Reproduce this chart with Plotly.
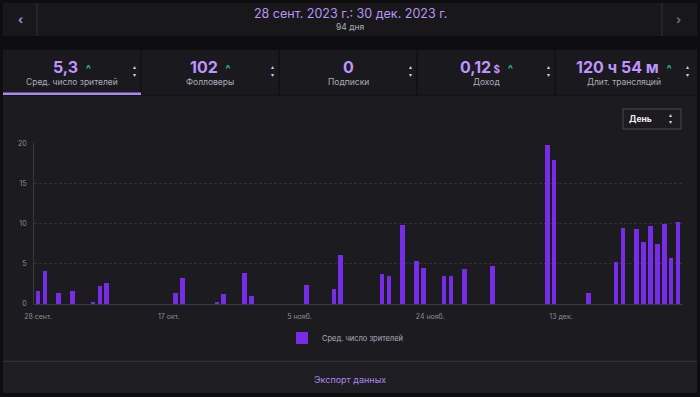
import plotly.graph_objects as go

# ---------------- data ----------------
dates = ["2023-09-28", "2023-09-29", "2023-10-01", "2023-10-03", "2023-10-06", "2023-10-07",
         "2023-10-08", "2023-10-18", "2023-10-19", "2023-10-24", "2023-10-25", "2023-10-28",
         "2023-10-29", "2023-11-06", "2023-11-10", "2023-11-11", "2023-11-17", "2023-11-18",
         "2023-11-20", "2023-11-22", "2023-11-23", "2023-11-26", "2023-11-27", "2023-11-29",
         "2023-12-03", "2023-12-11", "2023-12-12", "2023-12-17", "2023-12-21", "2023-12-22",
         "2023-12-24", "2023-12-25", "2023-12-26", "2023-12-27", "2023-12-28", "2023-12-29",
         "2023-12-30"]
viewers = [1.6, 4.1, 1.4, 1.6, 0.2, 2.3,
           2.65, 1.4, 3.2, 0.3, 1.25, 3.85,
           1.05, 2.35, 1.9, 6.1, 3.7, 3.45,
           9.8, 5.3, 4.45, 3.45, 3.45, 4.3,
           4.75, 19.8, 17.9, 1.35, 5.25, 9.4,
           9.3, 7.7, 9.75, 7.4, 10.0, 5.7,
           10.2]
series_name = "Сред. число зрителей"
x_tick_vals = ["2023-09-28", "2023-10-17", "2023-11-05", "2023-11-24", "2023-12-13"]
x_tick_text = ["28 сент.", "17 окт.", "5 нояб.", "24 нояб.", "13 дек."]
y_tick_vals = [0, 5, 10, 15, 20]

tab_values = ["5,3", "102", "0", "0,12", "120 ч 54 м"]
tab_suffix = ["", "", "", " $", ""]
tab_up = [True, True, False, True, True]
tab_labels = ["Сред. число зрителей", "Фолловеры", "Подписки", "Доход", "Длит. трансляций"]
period_title = "28 сент. 2023 г.: 30 дек. 2023 г."
period_days = "94 дня"

# ---------------- geometry helpers ----------------
W, H = 700, 397
ML, MR, MT, MB = 34, 17, 143, 93
PW, PH = W - ML - MR, H - MT - MB

def xp(px):
    return (px - ML) / PW

def yp(py):
    return (H - MB - py) / PH

PAGE = "#0e0e10"
CARD = "#1c1b1f"
HEAD = "#18181b"
PURPLE = "#772ce8"
LAV = "#bf94ff"
GREEN = "#1fc493"
GREY = "#adadb8"
FONT = "Inter, Roboto, sans-serif"

fig = go.Figure()
fig.add_trace(go.Bar(
    x=dates, y=viewers, name=series_name,
    marker=dict(color=PURPLE, line=dict(width=0)),
    width=0.68 * 86400000,
    showlegend=True,
))

shapes = []
def rect(x0, y0, x1, y1, fill, line=None, lw=0, layer="below"):
    shapes.append(dict(type="rect", xref="paper", yref="paper",
                       x0=xp(x0), x1=xp(x1), y0=yp(y1), y1=yp(y0),
                       fillcolor=fill, line=dict(color=line or fill, width=lw), layer=layer))

def hline(x0, x1, y, color, w=1):
    shapes.append(dict(type="line", xref="paper", yref="paper",
                       x0=xp(x0), x1=xp(x1), y0=yp(y), y1=yp(y),
                       line=dict(color=color, width=w), layer="below"))

def vline(x, y0, y1, color, w=1):
    shapes.append(dict(type="line", xref="paper", yref="paper",
                       x0=xp(x), x1=xp(x), y0=yp(y0), y1=yp(y1),
                       line=dict(color=color, width=w), layer="below"))

# header bar
rect(3, 3, 697, 36, HEAD)
vline(37, 3, 36, "#2a2a2f", 1.5)
vline(662, 3, 36, "#2a2a2f", 1.5)
# main card
rect(3, 50, 697, 393, CARD)
# tab row
rect(3, 50, 697, 95, "#1a191d")
for dx in [141, 279, 417, 555]:
    vline(dx, 50, 95, "#111113", 1.5)
hline(3, 697, 95.5, "#141416", 1.5)
rect(3, 92.5, 141, 95, "#a98af0")
# footer
hline(3, 697, 361.5, "#303036", 1.5)
rect(3, 362, 697, 393, "#1e1d21")
# dropdown
shapes.append(dict(type="rect", xref="paper", yref="paper",
                   x0=xp(623), x1=xp(681), y0=yp(129), y1=yp(109),
                   fillcolor="rgba(0,0,0,0)", line=dict(color="#4a4a52", width=1), layer="below"))

ann = []
def text(x, y, s, size, color, bold=False, xanchor="center"):
    ann.append(dict(xref="paper", yref="paper", x=xp(x), y=yp(y), text=s, showarrow=False,
                    xanchor=xanchor, yanchor="middle",
                    font=dict(size=size, color=color, family=FONT,
                              weight=("bold" if bold else "normal"))))

text(350, 13.5, period_title, 12.5, "#b794f6")
text(350, 27.5, period_days, 8.5, GREY)
text(20, 19.5, "‹", 12, "#9f8ff0", bold=True)
text(678, 19.5, "›", 12, "#6f6a99", bold=True)

tab_w = 138
for i in range(5):
    cx = 72 + i * tab_w
    num = tab_values[i]
    if tab_suffix[i]:
        num += "<span style='font-size:10px'>" + tab_suffix[i] + "</span>"
    if tab_up[i]:
        num += "  <span style='font-size:11px;color:%s'><b>^</b></span>" % GREEN
    text(cx, 67, num, 16, LAV, bold=True)
    text(cx, 82, tab_labels[i], 8.5, GREY)
    ix = 134 + i * tab_w + (1 if i == 4 else 0)
    text(ix, 70.5, "▴<br>▾", 6, "#d0d0d8")

text(640, 119, "День", 8.5, "#efeff1", bold=True)
text(670, 119, "▴<br>▾", 5.5, "#d0d0d8")
text(350, 379, "Экспорт данных", 9, "#a98af0")

fig.update_layout(
    width=W, height=H,
    margin=dict(l=ML, r=MR, t=MT, b=MB, pad=0),
    paper_bgcolor=PAGE, plot_bgcolor="rgba(0,0,0,0)",
    font=dict(family=FONT, color=GREY),
    shapes=shapes, annotations=ann,
    bargap=0,
    legend=dict(orientation="h", x=xp(345), xanchor="center", y=yp(338), yanchor="middle",
                bgcolor="rgba(0,0,0,0)", font=dict(size=7.5, color=GREY, family=FONT),
                itemwidth=30),
    xaxis=dict(type="date", range=["2023-09-27 10:03", "2023-12-30 17:30"],
               tickmode="array", tickvals=x_tick_vals, ticktext=x_tick_text,
               tickfont=dict(size=7, color="#8e8e96"), ticks="", ticklabelstandoff=6,
               showgrid=False, showline=True, linecolor="#3a3a40", linewidth=1,
               zeroline=False, fixedrange=True),
    yaxis=dict(range=[0, 20.02], tickmode="array", tickvals=y_tick_vals,
               tickfont=dict(size=7, color="#8e8e96"), ticks="", ticklabelstandoff=5,
               showgrid=True, gridcolor="#303036", griddash="3px,2px", gridwidth=1,
               showline=True, linecolor="#3a3a40", linewidth=1,
               zeroline=False, fixedrange=True),
)

fig.write_html("out.html", config={"displayModeBar": False},
               post_script="document.body.style.margin='0';document.body.style.background='%s';" % PAGE)
